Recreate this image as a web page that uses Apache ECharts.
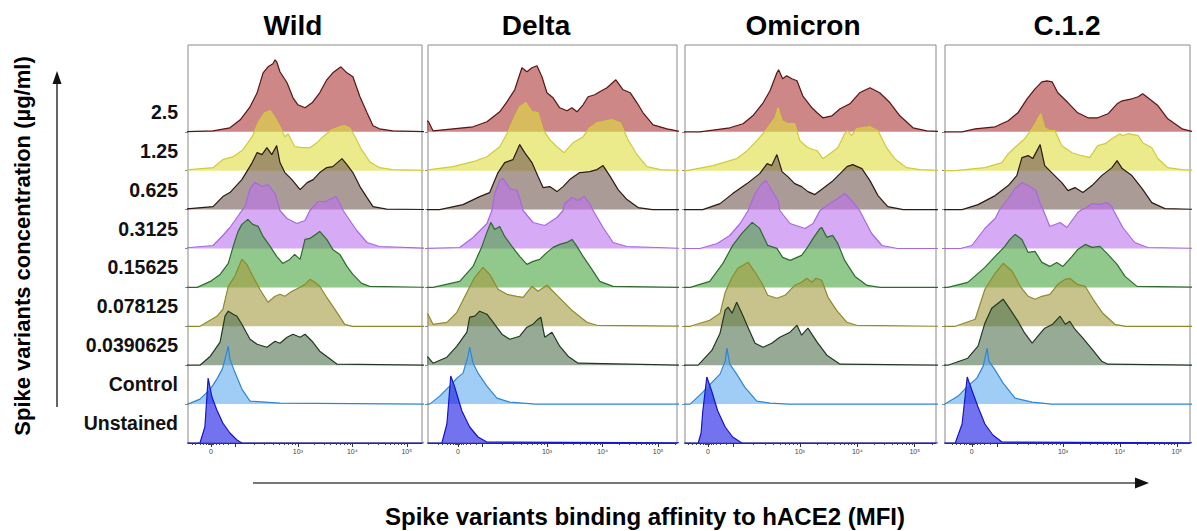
<!DOCTYPE html>
<html><head><meta charset="utf-8">
<script src="https://cdn.jsdelivr.net/npm/echarts@6/dist/echarts.min.js"></script>
<style>html,body{margin:0;padding:0;background:#fff}#c{width:1197px;height:531px}</style>
</head><body><div id="c"></div>
<script>
// ---------------- DATA ----------------
const variants = ['Wild', 'Delta', 'Omicron', 'C.1.2'];
const rowLabels = ['2.5', '1.25', '0.625', '0.3125', '0.15625', '0.078125', '0.0390625', 'Control', 'Unstained'];
// x: transformed fluorescence (decades; 10^3 -> 3), y: normalized event count
const xTickValues = [1.4, 3, 4, 5];
const xTickLabels = ['0', '10³', '10⁴', '10⁵'];
const xMinorTicks = [1.05,1.12,1.2,1.26,1.31,1.35,1.37,1.39,1.41,1.43,1.45,1.49,1.55,1.62,1.72,
  2.19,2.39,2.54,2.65,2.74,2.82,2.89,2.95,
  3.301,3.477,3.602,3.699,3.778,3.845,3.903,3.954,
  4.301,4.477,4.602,4.699,4.778,4.845,4.903,4.954,5.301];
const xMajorTicks = [1.4, 1.84, 3, 4, 5];

const wild = [
 [[0.8,0],[1.44,1],[1.75,4],[1.94,12],[2.12,25],[2.25,39],[2.36,59],[2.45,65],[2.54,68],[2.58,72],[2.61,70],[2.67,60],[2.80,49],[2.91,34],[3.00,27],[3.13,24],[3.26,29],[3.40,39],[3.53,52],[3.64,59],[3.79,65],[3.90,59],[4.01,55],[4.14,35],[4.27,19],[4.38,6],[4.50,3],[4.74,1],[5.5,0]],
 [[0.8,0],[1.44,3],[1.62,11],[1.81,14],[1.99,21],[2.16,34],[2.27,48],[2.39,58],[2.49,60],[2.58,53],[2.67,44],[2.76,34],[2.82,37],[2.94,24],[3.07,23],[3.22,23],[3.35,28],[3.46,34],[3.62,41],[3.77,44],[3.86,45],[3.95,43],[4.05,34],[4.17,21],[4.32,9],[4.50,3],[4.74,1],[5.5,0]],
 [[0.8,0],[1.44,3],[1.62,13],[1.75,17],[1.97,30],[2.16,47],[2.25,57],[2.34,55],[2.43,62],[2.52,55],[2.61,64],[2.67,47],[2.76,37],[2.89,30],[3.04,20],[3.17,27],[3.28,30],[3.40,37],[3.53,42],[3.64,43],[3.81,51],[3.90,45],[4.01,37],[4.14,23],[4.27,12],[4.38,3],[4.63,0.5],[5.5,0]],
 [[0.8,0],[1.44,3],[1.62,13],[1.75,21],[1.88,31],[1.97,38],[2.03,42],[2.12,60],[2.21,66],[2.34,62],[2.45,64],[2.58,55],[2.67,38],[2.80,30],[2.98,25],[3.13,28],[3.22,38],[3.37,47],[3.50,47],[3.62,50],[3.70,52],[3.77,45],[3.83,38],[4.08,18],[4.27,6],[4.50,2],[5.5,0]],
 [[0.8,0],[1.15,0],[1.39,6],[1.57,13],[1.72,24],[1.81,41],[1.90,56],[1.97,63],[2.08,68],[2.17,63],[2.27,61],[2.36,51],[2.49,41],[2.61,31],[2.72,24],[2.85,28],[2.94,33],[3.04,28],[3.13,48],[3.22,49],[3.35,54],[3.40,56],[3.53,48],[3.64,38],[3.77,33],[3.90,21],[4.01,13],[4.17,4],[4.32,1],[5.5,0]],
 [[0.8,0],[1.20,0],[1.51,10],[1.62,17],[1.72,40],[1.84,50],[1.97,67],[2.06,62],[2.17,50],[2.30,37],[2.45,24],[2.58,30],[2.67,32],[2.76,30],[2.89,35],[3.04,39],[3.13,42],[3.22,47],[3.31,44],[3.40,40],[3.53,29],[3.68,17],[3.86,2],[4.0,0],[5.5,0]],
 [[0.8,0],[1.20,0],[1.39,9],[1.57,23],[1.66,49],[1.72,54],[1.81,51],[1.88,49],[1.97,41],[2.12,26],[2.25,21],[2.43,18],[2.58,24],[2.67,22],[2.80,28],[2.91,31],[3.04,28],[3.13,31],[3.26,24],[3.40,14],[3.55,8],[3.72,1],[5.5,0]],
 [[0.8,0],[0.98,0],[1.20,5],[1.39,15],[1.51,25],[1.61,35],[1.66,45],[1.72,58],[1.75,45],[1.84,32],[1.97,15],[2.12,3],[2.67,1],[5.5,0]],
 [[0.8,0],[1.20,0],[1.29,16],[1.35,65],[1.42,46],[1.51,33],[1.62,20],[1.75,10],[1.88,3],[1.97,0],[5.5,0]]
];
const delta = [
 [[0.8,12],[0.87,10],[0.95,1],[1.31,3],[1.67,5],[1.92,10],[2.15,20],[2.28,30],[2.42,42],[2.55,64],[2.64,60],[2.73,64],[2.82,66],[2.91,55],[3.00,39],[3.11,34],[3.23,24],[3.36,21],[3.45,24],[3.54,20],[3.65,27],[3.74,35],[3.86,37],[3.95,40],[4.08,44],[4.24,52],[4.37,42],[4.50,39],[4.62,29],[4.73,19],[4.91,7],[5.16,3],[5.34,1],[5.5,0]],
 [[0.8,0],[0.89,1],[1.31,4],[1.67,9],[1.92,14],[2.15,24],[2.30,39],[2.42,54],[2.51,64],[2.62,68],[2.73,59],[2.84,58],[2.93,41],[3.05,31],[3.18,24],[3.31,18],[3.47,28],[3.65,34],[3.77,43],[3.90,48],[4.01,49],[4.17,51],[4.32,48],[4.46,31],[4.62,16],[4.80,4],[5.04,1],[5.5,0]],
 [[0.8,0],[1.07,0],[1.49,5],[1.79,13],[1.97,17],[2.12,37],[2.24,47],[2.39,50],[2.51,65],[2.60,57],[2.73,47],[2.84,33],[2.93,22],[3.05,23],[3.18,18],[3.29,23],[3.41,30],[3.59,37],[3.77,38],[3.90,40],[4.01,44],[4.14,33],[4.28,20],[4.44,10],[4.64,2],[4.9,0],[5.5,0]],
 [[0.8,0],[1.43,1],[1.67,11],[1.92,25],[2.01,38],[2.06,55],[2.15,68],[2.21,70],[2.33,60],[2.46,58],[2.51,50],[2.57,38],[2.75,26],[2.96,23],[3.18,31],[3.29,38],[3.32,45],[3.45,51],[3.56,48],[3.67,52],[3.77,45],[3.83,38],[4.01,21],[4.19,6],[4.44,2],[5.5,0]],
 [[0.8,0],[0.95,0],[1.43,6],[1.67,21],[1.83,41],[1.92,55],[1.99,65],[2.06,58],[2.15,61],[2.24,51],[2.37,41],[2.51,31],[2.64,23],[2.75,26],[2.87,28],[3.00,35],[3.11,40],[3.23,43],[3.36,45],[3.45,48],[3.54,41],[3.65,31],[3.81,18],[3.95,6],[4.19,1],[5.5,0]],
 [[0.8,14],[0.86,12],[0.95,2],[1.20,4],[1.38,14],[1.56,34],[1.70,49],[1.85,59],[1.97,52],[2.12,37],[2.28,32],[2.46,30],[2.57,29],[2.73,40],[2.84,35],[3.00,41],[3.11,35],[3.29,25],[3.47,15],[3.72,4],[3.90,1],[5.5,0]],
 [[0.8,9],[0.86,8],[0.95,2],[1.20,8],[1.38,19],[1.56,33],[1.61,48],[1.70,49],[1.79,54],[1.92,51],[2.03,43],[2.19,31],[2.33,26],[2.51,29],[2.64,38],[2.75,41],[2.84,46],[2.89,48],[2.96,28],[3.09,33],[3.23,19],[3.38,9],[3.56,2],[5.5,0]],
 [[0.8,0],[0.89,0],[1.07,8],[1.25,18],[1.38,26],[1.49,31],[1.58,48],[1.61,57],[1.67,41],[1.76,31],[1.92,18],[2.10,6],[2.33,2],[2.8,0],[5.5,0]],
 [[0.8,0],[1.11,0],[1.20,19],[1.27,67],[1.34,56],[1.47,32],[1.61,16],[1.76,6],[1.92,1],[5.5,0]]
];
const omicron = [
 [[0.8,0],[1.26,0],[1.78,4],[2.01,8],[2.18,16],[2.36,29],[2.48,41],[2.60,59],[2.63,62],[2.70,53],[2.77,56],[2.86,53],[2.95,51],[3.05,36],[3.21,24],[3.30,19],[3.40,14],[3.56,16],[3.70,23],[3.87,28],[4.04,39],[4.22,44],[4.39,39],[4.57,29],[4.74,16],[4.97,4],[5.21,1],[5.5,0]],
 [[0.8,0],[1.03,0],[1.49,5],[1.90,12],[2.08,20],[2.25,30],[2.43,42],[2.57,53],[2.62,63],[2.69,50],[2.79,47],[2.91,47],[3.00,30],[3.14,23],[3.30,20],[3.40,12],[3.52,17],[3.66,23],[3.78,37],[3.83,40],[3.90,35],[3.99,42],[4.22,44],[4.36,40],[4.51,23],[4.65,12],[4.86,3],[5.09,1],[5.5,0]],
 [[0.8,0],[1.31,0],[1.61,6],[1.83,16],[2.08,26],[2.30,36],[2.43,46],[2.51,44],[2.60,55],[2.69,38],[2.79,33],[2.91,26],[3.03,23],[3.14,18],[3.26,15],[3.40,21],[3.56,28],[3.70,36],[3.82,43],[3.92,45],[4.08,41],[4.22,29],[4.36,14],[4.53,3],[4.8,0],[5.5,0]],
 [[0.8,0],[1.26,0],[1.56,5],[1.78,13],[1.96,25],[2.10,38],[2.22,55],[2.34,65],[2.41,68],[2.51,58],[2.62,48],[2.65,38],[2.83,25],[3.09,20],[3.23,25],[3.35,38],[3.52,45],[3.66,50],[3.78,55],[3.87,50],[3.99,42],[4.04,38],[4.25,15],[4.43,3],[4.7,0],[5.5,0]],
 [[0.8,0],[1.09,0],[1.43,6],[1.66,24],[1.83,42],[1.99,54],[2.17,65],[2.30,59],[2.44,42],[2.60,39],[2.70,30],[2.83,27],[2.95,30],[3.03,32],[3.12,39],[3.23,49],[3.35,59],[3.38,60],[3.47,50],[3.57,52],[3.66,44],[3.78,27],[3.96,11],[4.17,2],[4.4,0],[5.5,0]],
 [[0.8,0],[1.09,0],[1.43,6],[1.61,13],[1.70,34],[1.82,49],[1.92,58],[2.10,64],[2.22,54],[2.34,43],[2.44,31],[2.60,28],[2.74,31],[2.91,41],[3.03,44],[3.12,48],[3.21,44],[3.28,48],[3.38,46],[3.49,29],[3.64,16],[3.82,4],[3.99,1],[5.5,0]],
 [[0.8,0],[1.23,0],[1.47,15],[1.61,32],[1.70,55],[1.75,58],[1.82,52],[1.90,63],[1.99,52],[2.08,40],[2.22,22],[2.36,18],[2.51,22],[2.65,28],[2.83,33],[2.95,40],[3.03,30],[3.14,37],[3.30,23],[3.47,10],[3.70,1],[5.5,0]],
 [[0.8,0],[1.09,0],[1.31,12],[1.49,23],[1.61,30],[1.70,43],[1.73,56],[1.78,40],[1.90,30],[2.04,17],[2.25,3],[2.48,1],[2.8,0],[5.5,0]],
 [[0.8,0],[1.23,0],[1.28,10],[1.31,32],[1.38,66],[1.47,51],[1.57,32],[1.70,16],[1.83,6],[1.99,0],[5.5,0]]
];
const c12 = [
 [[0.8,0],[1.23,0],[1.46,3],[1.81,5],[2.04,11],[2.21,19],[2.37,33],[2.51,43],[2.63,50],[2.72,51],[2.81,50],[2.91,39],[3.09,29],[3.26,19],[3.44,14],[3.61,14],[3.79,18],[3.95,28],[4.04,31],[4.21,33],[4.32,35],[4.40,38],[4.56,31],[4.67,26],[4.84,13],[5.09,3],[5.3,0],[5.5,0]],
 [[0.8,0],[1.11,0],[1.63,3],[1.93,8],[2.04,17],[2.19,25],[2.33,32],[2.46,42],[2.54,50],[2.61,57],[2.68,43],[2.77,40],[2.86,40],[2.98,25],[3.16,18],[3.33,15],[3.47,13],[3.61,25],[3.74,27],[3.86,32],[4.00,37],[4.05,35],[4.14,37],[4.32,35],[4.40,28],[4.56,23],[4.67,12],[4.84,3],[5.09,1],[5.5,0]],
 [[0.8,0],[1.23,0],[1.51,5],[1.81,14],[2.04,24],[2.19,34],[2.28,52],[2.39,54],[2.47,51],[2.60,65],[2.68,44],[2.82,36],[2.98,27],[3.09,19],[3.21,22],[3.35,17],[3.51,24],[3.68,34],[3.86,42],[3.95,49],[4.04,41],[4.21,34],[4.39,21],[4.56,7],[4.79,1],[5.5,0]],
 [[0.8,0],[1.2,0],[1.40,3],[1.63,20],[1.81,30],[1.89,39],[2.04,50],[2.16,60],[2.28,66],[2.42,62],[2.53,58],[2.60,45],[2.65,39],[2.77,22],[2.95,26],[3.07,21],[3.26,36],[3.33,39],[3.39,40],[3.51,45],[3.65,44],[3.77,46],[3.86,42],[3.88,39],[4.05,21],[4.26,6],[4.49,1],[5.5,0]],
 [[0.8,0],[0.98,0],[1.33,5],[1.63,20],[1.81,31],[1.98,41],[2.07,48],[2.16,53],[2.28,48],[2.39,35],[2.51,36],[2.63,25],[2.77,21],[2.89,25],[3.00,21],[3.16,31],[3.26,38],[3.39,43],[3.51,40],[3.65,41],[3.79,33],[3.95,23],[4.09,11],[4.30,1],[5.5,0]],
 [[0.8,0],[1.11,0],[1.46,7],[1.63,37],[1.81,53],[1.95,63],[2.11,55],[2.25,40],[2.39,30],[2.51,27],[2.63,30],[2.77,32],[2.91,42],[3.04,47],[3.12,48],[3.25,42],[3.39,40],[3.53,27],[3.70,13],[3.91,2],[4.1,0],[5.5,0]],
 [[0.8,0],[0.98,0],[1.33,7],[1.51,19],[1.63,42],[1.75,57],[1.95,66],[2.07,56],[2.21,44],[2.33,32],[2.46,22],[2.56,29],[2.68,37],[2.82,41],[2.95,49],[3.04,41],[3.12,44],[3.21,36],[3.35,27],[3.51,16],[3.68,4],[3.79,1],[5.5,0]],
 [[0.8,0],[0.93,0],[1.16,8],[1.33,18],[1.49,26],[1.60,38],[1.67,56],[1.70,43],[1.81,34],[1.95,21],[2.16,6],[2.46,2],[2.8,0],[5.5,0]],
 [[0.8,0],[1.11,0],[1.23,19],[1.32,66],[1.40,53],[1.51,36],[1.63,19],[1.77,8],[1.93,1],[5.5,0]]
];

// ---------------- STYLE / LAYOUT ----------------
const fills = ['rgba(172,55,55,0.6)','rgba(222,222,63,0.6)','rgba(113,88,80,0.6)','rgba(188,113,238,0.6)',
  'rgba(72,163,63,0.6)','rgba(163,155,63,0.6)','rgba(80,113,80,0.6)','rgba(97,172,238,0.6)','rgba(22,22,230,0.6)'];
const strokes = ['#5c1414','#d2ca3a','#2b1b12','#a868e0','#2c6b2c','#8f8a2a','#1e3a1e','#2f86d6','#1515c8'];
const panelsLayout = [
  {left:188, width:234, min:0.98, max:5.28, title:293},
  {left:428, width:249, min:0.86, max:5.34, title:536},
  {left:685, width:251, min:1.0,  max:5.37, title:803},
  {left:945, width:245, min:0.93, max:5.23, title:1067}
];
const GTOP = 45, GH = 398, ROW = 38.9;
const FONT = '"Liberation Sans", Arial, sans-serif';

const panelData = [wild, delta, omicron, c12];
const grid = [], xAxis = [], yAxis = [], series = [];
const offsets = rowLabels.map((_, r) => (rowLabels.length - 1 - r) * ROW);

panelsLayout.forEach((L, p) => {
  grid.push({left:L.left, width:L.width, top:GTOP, height:GH, show:true, borderColor:'#8a8a8a', borderWidth:1, backgroundColor:'transparent'});
  xAxis.push({type:'value', gridIndex:p, min:L.min, max:L.max, position:'bottom',
    axisLine:{show:true, lineStyle:{color:'#333', width:1}},
    axisTick:{show:true, inside:false, length:4, customValues:xMajorTicks, lineStyle:{color:'#333'}},
    axisLabel:{show:true, customValues:xTickValues, margin:5, fontSize:7, color:'#444', fontFamily:FONT,
      formatter:(v)=>{const i = xTickValues.findIndex(t=>Math.abs(t-v)<1e-6); return i>=0?xTickLabels[i]:'';}},
    splitLine:{show:false}});
  xAxis.push({type:'value', gridIndex:p, min:L.min, max:L.max, position:'bottom',
    axisLine:{show:false}, axisLabel:{show:false}, splitLine:{show:false},
    axisTick:{show:true, inside:false, length:2, customValues:xMinorTicks, lineStyle:{color:'#444'}}});
  yAxis.push({type:'value', gridIndex:p, min:0, max:GH,
    axisLine:{show:false}, splitLine:{show:false},
    axisTick:{show:true, length:3, customValues:offsets.slice(0, -1), lineStyle:{color:'#8a8a8a'}},
    axisLabel:{show:p===0, customValues:offsets.map(o=>o+20), margin:10, fontSize:19.5, fontWeight:'bold', color:'#111', fontFamily:FONT,
      formatter:(v)=>{const r = rowLabels.length - 1 - Math.round((v-20)/ROW); return rowLabels[r] || '';}}});

  panelData[p].forEach((curve, r) => {
    const off = offsets[r];
    series.push({type:'line', xAxisIndex:2*p, yAxisIndex:p,
      data:curve.map(d=>[d[0], d[1] + off]), symbol:'none',
      lineStyle:{color:strokes[r], width:1.2},
      areaStyle:{color:fills[r], opacity:1, origin:off}, z:2});
  });
});

const graphic = [];
panelsLayout.forEach((L, p) => {
  graphic.push({type:'text', x:L.title, y:25, style:{text:variants[p], fontSize:28, fontWeight:'bold', fontFamily:FONT, fill:'#000', align:'center', verticalAlign:'middle'}});
});
graphic.push({type:'text', x:22, y:246, rotation:Math.PI/2, style:{text:'Spike variants concentration (µg/ml)', fontSize:22, fontWeight:'bold', fontFamily:FONT, fill:'#000', align:'center', verticalAlign:'middle'}});
graphic.push({type:'text', x:645, y:516, style:{text:'Spike variants binding affinity to hACE2 (MFI)', fontSize:24, fontWeight:'bold', fontFamily:FONT, fill:'#000', align:'center', verticalAlign:'middle'}});
graphic.push({type:'line', shape:{x1:57, y1:407, x2:57, y2:82}, style:{stroke:'#111', lineWidth:1.3}});
graphic.push({type:'polygon', shape:{points:[[57,71],[52.5,84],[61.5,84]]}, style:{fill:'#111'}});
graphic.push({type:'line', shape:{x1:253, y1:483, x2:1136, y2:483}, style:{stroke:'#777', lineWidth:2}});
graphic.push({type:'polygon', shape:{points:[[1149,483],[1135,477.5],[1135,488.5]]}, style:{fill:'#111'}});

const chart = echarts.init(document.getElementById('c'), null, {renderer:'svg'});
chart.setOption({animation:false, backgroundColor:'#fff', grid, xAxis, yAxis, series, graphic});
</script></body></html>
